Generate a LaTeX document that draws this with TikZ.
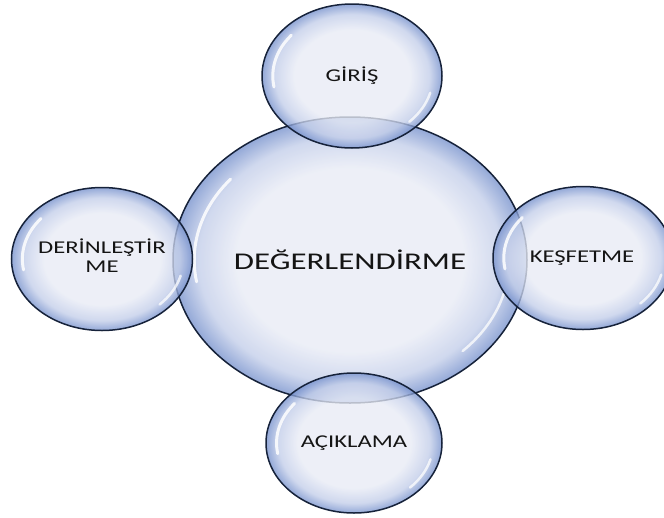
\documentclass[tikz,border=0pt]{standalone}
\usepackage{fontspec}
\setmainfont{Carlito}
\usetikzlibrary{shapes.geometric,calc}

\definecolor{bubin}{HTML}{E8EBF5}
\definecolor{bubmid}{HTML}{C2CDE9}
\definecolor{bubout}{HTML}{7590CC}
\definecolor{bubline}{HTML}{16223A}
\definecolor{bubtext}{HTML}{141414}

\pgfdeclareradialshading{bubble}{\pgfpoint{0bp}{0bp}}{%
  color(0bp)=(bubin); color(16bp)=(bubin); color(21.5bp)=(bubmid);
  color(25bp)=(bubout); color(50bp)=(bubout)}

\newcommand{\wide}[1]{\scalebox{1.37}[1]{#1}}

\tikzset{
  bubble/.style={ellipse, draw=bubline, line width=1.5pt, shading=bubble,
    fill opacity=0.78, text opacity=1, text=bubtext, inner sep=0pt,
    font=\fontsize{18}{19}\selectfont, align=center, gloss},
  gloss/.style={path picture={
    \draw[white, line width=3pt, line cap=round, opacity=0.85]
      let \p1=(path picture bounding box.north east),
          \p2=(path picture bounding box.center) in
      ($(\p2)+({0.88*(\x1-\x2)*cos(140)},{0.88*(\y1-\y2)*sin(140)})$)
      arc[start angle=140, end angle=190,
          x radius={0.88*(\x1-\x2)}, y radius={0.88*(\y1-\y2)}];
    \draw[white, line width=2.5pt, line cap=round, opacity=0.75]
      let \p1=(path picture bounding box.north east),
          \p2=(path picture bounding box.center) in
      ($(\p2)+({0.9*(\x1-\x2)*cos(-15)},{0.9*(\y1-\y2)*sin(-15)})$)
      arc[start angle=-15, end angle=-45,
          x radius={0.9*(\x1-\x2)}, y radius={0.9*(\y1-\y2)}];
  }}
}

\begin{document}
\begin{tikzpicture}[x=1pt,y=-1pt]

  \useasboundingbox (0,0) rectangle (664,517);
  \clip (0,0) rectangle (664,517);

  % central bubble
  \node[bubble, minimum width=354pt, minimum height=286pt,
        font=\fontsize{24}{26}\selectfont] (eval) at (350,260)
        {\wide{DEĞERLENDİRME}};

  % satellites
  \node[bubble, minimum width=180pt, minimum height=144pt] (giris) at (352,76)
        {\wide{GİRİŞ}};
  \node[bubble, minimum width=181pt, minimum height=143pt] (derin) at (102,259)
        {\wide{\begin{tabular}{@{}c@{}}DERİNLEŞTİR\\ME\end{tabular}}};
  \node[bubble, minimum width=180pt, minimum height=143pt] (kesfet) at (583,258)
        {\hspace*{-2pt}\wide{KEŞFETME}};
  \node[bubble, minimum width=176pt, minimum height=140pt] (acik) at (354,443)
        {\wide{AÇIKLAMA}};

\end{tikzpicture}
\end{document}
